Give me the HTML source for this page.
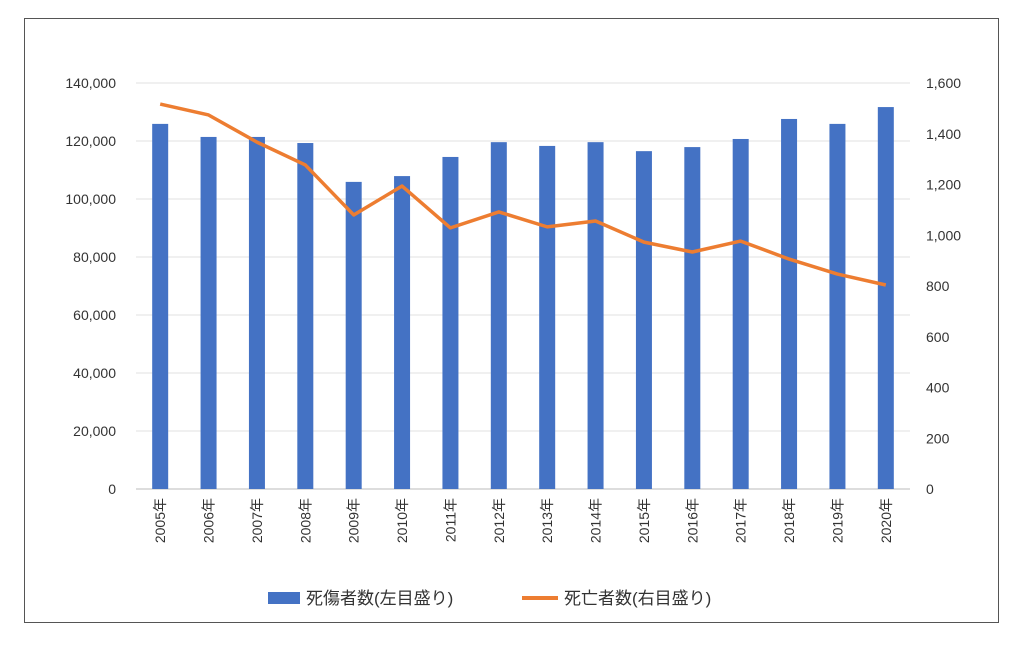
<!DOCTYPE html>
<html><head><meta charset="utf-8">
<style>
body{margin:0;background:#fff;}
svg text{font-family:"Liberation Sans","Noto Sans CJK JP",sans-serif;}
</style></head>
<body>
<svg width="1024" height="640" xmlns="http://www.w3.org/2000/svg">
<rect x="24.5" y="18.5" width="974" height="604" fill="#fff" stroke="#555" stroke-width="1"/>
<g id="grid"></g><g id="bars"></g><g id="line"></g><g id="axes"></g>
<g>
<rect x="268" y="592" width="32" height="12" fill="#4472C4"/>
<text x="306" y="604" font-size="17" fill="#333">死傷者数(左目盛り)</text>
<line x1="522" y1="598" x2="558" y2="598" stroke="#ED7D31" stroke-width="4"/>
<text x="564" y="604" font-size="17" fill="#333">死亡者数(右目盛り)</text>
</g>
</svg>
<script>
const years=["2005年","2006年","2007年","2008年","2009年","2010年","2011年","2012年","2013年","2014年","2015年","2016年","2017年","2018年","2019年","2020年"];
const casualties=[125900,121400,121400,119300,105900,107900,114500,119600,118300,119600,116500,117900,120700,127600,125900,131700];
const deaths=[1517,1474,1367,1277,1080,1194,1029,1092,1033,1056,973,934,977,906,847,804];
const leftTicks=[0,20000,40000,60000,80000,100000,120000,140000];
const rightTicks=[0,200,400,600,800,1000,1200,1400,1600];
const NS="http://www.w3.org/2000/svg";
const x0=136,x1=910,yTop=83,yBot=489;
const step=(x1-x0)/years.length;
const xc=i=>x0+step*(i+0.5);
const yL=v=>yBot-(v/140000)*(yBot-yTop);
const yR=v=>yBot-(v/1600)*(yBot-yTop);
function mk(tag,attrs,parent,txt){const e=document.createElementNS(NS,tag);for(const k in attrs)e.setAttribute(k,attrs[k]);if(txt!==undefined)e.textContent=txt;document.getElementById(parent).appendChild(e);return e;}
const fmt=v=>v.toLocaleString('en-US');
leftTicks.forEach(t=>{
 const g=mk('line',{x1:x0,x2:x1,y1:yL(t),y2:yL(t),stroke:t===0?'#bbb':'#e2e2e2','stroke-width':1},'grid');
 
 
 const l=mk('text',{x:116,y:yL(t)+5,'text-anchor':'end','font-size':14,fill:'#333'},'axes',fmt(t));
 
 
});
rightTicks.forEach(t=>{
 const l=mk('text',{x:926,y:yR(t)+5,'text-anchor':'start','font-size':14,fill:'#333'},'axes',fmt(t));
 
 
});
casualties.forEach((v,i)=>{
 const b=mk('rect',{x:xc(i)-8,y:yL(v),width:16,height:yBot-yL(v),fill:'#4472C4'},'bars');
 
 
 const cx=xc(i);
 const l=mk('text',{x:0,y:0,'text-anchor':'end','font-size':14,fill:'#333',transform:`translate(${cx+5},498) rotate(-90)`},'axes',years[i]);
 
 
});
const pts=deaths.map((v,i)=>xc(i)+','+yR(v)).join(' ');
const pl=mk('polyline',{points:pts,fill:'none',stroke:'#ED7D31','stroke-width':3.5,'stroke-linejoin':'round'},'line');


</script>
</body></html>
